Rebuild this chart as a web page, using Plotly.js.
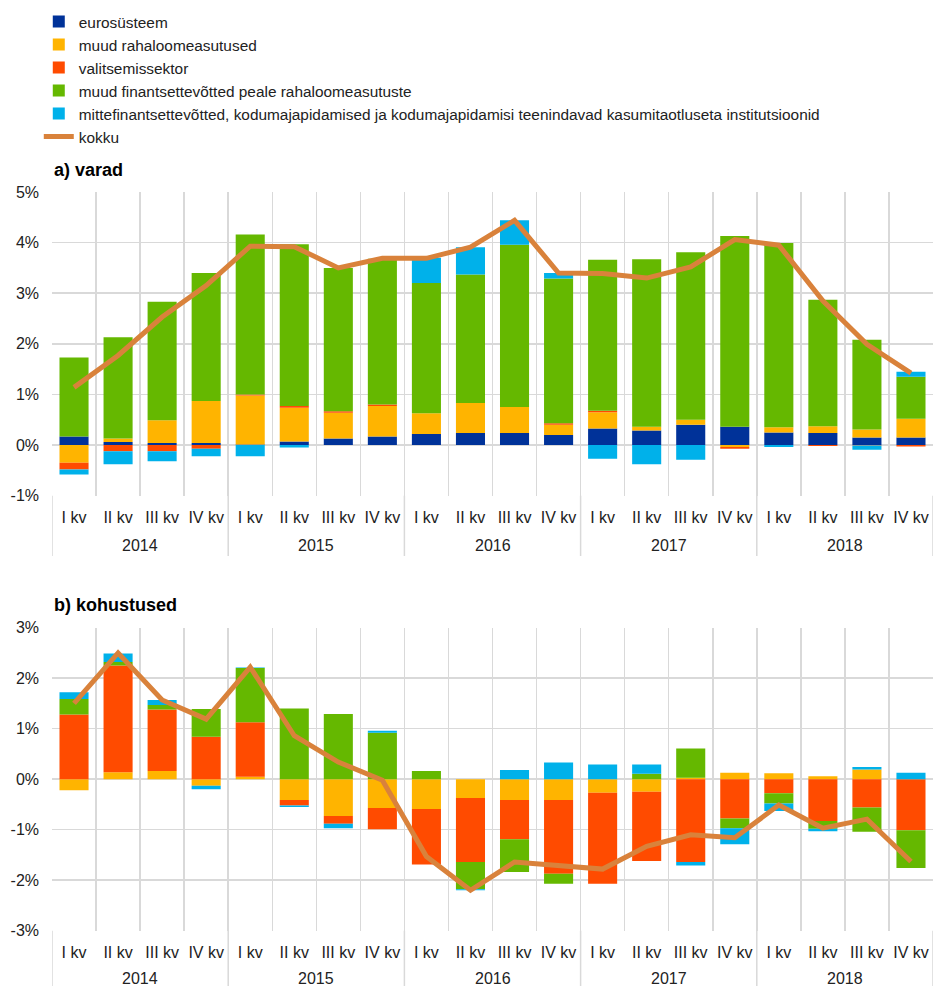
<!DOCTYPE html>
<html>
<head>
<meta charset="utf-8">
<script src="https://cdn.plot.ly/plotly-3.0.1.min.js"></script>
<style>
  html, body { margin: 0; padding: 0; background: #ffffff; }
  #chart { width: 933px; height: 986px; }
</style>
</head>
<body>
<div id="chart"></div>
<script>
// Categories
const years = ['2014','2014','2014','2014','2015','2015','2015','2015','2016','2016','2016','2016','2017','2017','2017','2017','2018','2018','2018','2018'];
const quarters = ['I kv','II kv','III kv','IV kv','I kv','II kv','III kv','IV kv','I kv','II kv','III kv','IV kv','I kv','II kv','III kv','IV kv','I kv','II kv','III kv','IV kv'];

const seriesNames = ['eurosüsteem','muud rahaloomeasutused','valitsemissektor','muud finantsettevõtted peale rahaloomeasutuste','mittefinantsettevõtted, kodumajapidamised ja kodumajapidamisi teenindavad kasumitaotluseta institutsioonid','kokku'];

// y tick labels
const yticks_a = [-1, 0, 1, 2, 3, 4, 5];
const ytext_a  = ['-1%', '0%', '1%', '2%', '3%', '4%', '5%'];
const yticks_b = [-3, -2, -1, 0, 1, 2, 3];
const ytext_b  = ['-3%', '-2%', '-1%', '0%', '1%', '2%', '3%'];

// a) varad
const euro_a     = [0.17, 0.06, 0.04, 0.04, 0.01, 0.07, 0.13, 0.17, 0.22, 0.24, 0.24, 0.20, 0.33, 0.29, 0.40, 0.36, 0.25, 0.24, 0.15, 0.15];
const raha_a     = [-0.35, 0.07, 0.45, 0.83, 0.97, 0.67, 0.51, 0.60, 0.41, 0.59, 0.51, 0.20, 0.32, 0.07, 0.10, -0.04, 0.10, 0.13, 0.16, 0.37];
const valits_a   = [-0.13, -0.12, -0.12, -0.07, 0.02, 0.03, 0.03, 0.03, 0.00, 0.00, 0.00, 0.03, 0.03, 0.00, 0.00, -0.03, 0.00, -0.02, -0.01, -0.03];
const muudfin_a  = [1.56, 2.00, 2.34, 2.53, 3.16, 3.20, 2.83, 2.88, 2.57, 2.54, 3.21, 2.86, 2.98, 3.31, 3.31, 3.77, 3.64, 2.50, 1.77, 0.83];
const mittefin_a = [-0.10, -0.26, -0.20, -0.15, -0.22, -0.05, 0.00, 0.00, 0.50, 0.54, 0.48, 0.11, -0.27, -0.38, -0.29, 0.00, -0.04, 0.00, -0.08, 0.10];
const kokku_a    = [1.14, 1.77, 2.53, 3.15, 3.93, 3.92, 3.50, 3.69, 3.69, 3.91, 4.44, 3.40, 3.39, 3.30, 3.52, 4.06, 3.95, 2.85, 1.99, 1.42];

// b) kohustused
const euro_b     = [0, 0, 0, 0, 0, 0, 0, 0, 0, 0, 0, 0, 0, 0, 0, 0, 0, 0, 0, 0];
const raha_b     = [-0.22, 0.14, 0.16, -0.13, 0.05, -0.41, -0.73, -0.57, -0.59, -0.37, -0.41, -0.41, -0.27, -0.25, 0.03, 0.13, 0.12, 0.06, 0.19, 0.00];
const valits_b   = [1.28, 2.11, 1.22, 0.84, 1.08, -0.11, -0.15, -0.42, -1.10, -1.27, -0.78, -1.46, -1.80, -1.37, -1.64, -0.78, -0.28, -0.83, -0.56, -1.01];
const muudfin_b  = [0.31, 0.07, 0.09, 0.55, 1.07, 1.40, 1.29, 0.92, 0.16, -0.54, -0.65, -0.20, 0.00, 0.11, 0.58, -0.19, -0.20, -0.15, -0.48, -0.75];
const mittefin_b = [0.13, 0.17, 0.10, -0.07, 0.01, -0.03, -0.09, 0.04, 0.00, -0.02, 0.18, 0.33, 0.29, 0.18, -0.07, -0.32, -0.15, -0.05, 0.05, 0.13];
const kokku_b    = [1.50, 2.50, 1.57, 1.19, 2.22, 0.86, 0.34, -0.02, -1.53, -2.20, -1.64, -1.72, -1.78, -1.33, -1.10, -1.16, -0.51, -0.97, -0.79, -1.63];

const colors = ['#003299', '#ffb400', '#ff4b00', '#65b800', '#00b1ea', '#d9823b'];

// unique category keys (year + quarter); tick text shows the quarter only
const xkeys = years.map((y, i) => y + ' ' + quarters[i]);

function panel(vals, total, xa, ya, show) {
  const traces = vals.map((v, i) => ({
    type: 'bar',
    name: seriesNames[i],
    x: xkeys,
    y: v,
    xaxis: xa, yaxis: ya,
    marker: { color: colors[i], line: { width: 0 } },
    showlegend: show,
    hoverinfo: 'y+name'
  }));
  traces.push({
    type: 'scatter',
    mode: 'lines',
    name: seriesNames[5],
    x: xkeys,
    y: total,
    xaxis: xa, yaxis: ya,
    line: { color: colors[5], width: 5 },
    showlegend: show,
    hoverinfo: 'y+name'
  });
  return traces;
}

const data = [].concat(
  panel([euro_a, raha_a, valits_a, muudfin_a, mittefin_a], kokku_a, 'x', 'y', true),
  panel([euro_b, raha_b, valits_b, muudfin_b, mittefin_b], kokku_b, 'x2', 'y2', false)
);

const fontFam = 'Liberation Sans, Arial, sans-serif';
const grid = '#d9d9d9';
const H = 986;

function xax(anchor) {
  return {
    type: 'category',
    anchor: anchor,
    domain: [0, 1],
    range: [-0.5, xkeys.length - 0.5],
    tickmode: 'array',
    tickvals: xkeys,
    ticktext: quarters,
    tickson: 'boundaries',
    showgrid: true,
    gridcolor: grid,
    gridwidth: 1.5,
    ticks: '',
    showline: false,
    zeroline: false,
    automargin: false,
    ticklabelstandoff: 10,
    tickfont: { family: fontFam, size: 16, color: '#222222' }
  };
}
function yax(anchor, dom, rng, tv, tt) {
  return {
    anchor: anchor,
    domain: dom,
    range: rng,
    tickmode: 'array',
    tickvals: tv,
    ticktext: tt,
    showgrid: true,
    gridcolor: grid,
    gridwidth: 1.5,
    zeroline: false,
    showline: false,
    ticks: '',
    ticklabelstandoff: 12,
    automargin: false,
    tickfont: { family: fontFam, size: 16, color: '#222222' }
  };
}

// year groups: label positions and divider positions from the category arrays
const yearList = [...new Set(years)];
const yearMid = yearList.map(y => (years.indexOf(y) + years.lastIndexOf(y)) / 2);
const yearBounds = [-0.5].concat(yearList.map(y => years.lastIndexOf(y) + 0.5));

const panels = [
  { xref: 'x', bottom: 495.7, yearY: 545, divEnd: 556 },
  { xref: 'x2', bottom: 930.7, yearY: 978, divEnd: 986 }
];

const annotations = [
  { xref: 'paper', yref: 'paper', x: 0, y: 1 - 170 / H, xanchor: 'left', yanchor: 'middle',
    text: '<b>a) varad</b>', showarrow: false, font: { family: fontFam, size: 18, color: '#000000' } },
  { xref: 'paper', yref: 'paper', x: 0, y: 1 - 605 / H, xanchor: 'left', yanchor: 'middle',
    text: '<b>b) kohustused</b>', showarrow: false, font: { family: fontFam, size: 18, color: '#000000' } }
];
const shapes = [];
panels.forEach(p => {
  yearList.forEach((y, k) => {
    annotations.push({
      xref: p.xref, yref: 'paper', x: yearMid[k], y: 1 - p.yearY / H,
      xanchor: 'center', yanchor: 'middle', text: y, showarrow: false,
      font: { family: fontFam, size: 16, color: '#222222' }
    });
  });
  yearBounds.forEach(b => {
    shapes.push({
      type: 'line', xref: p.xref, yref: 'paper',
      x0: b, x1: b, y0: 1 - p.bottom / H, y1: 1 - p.divEnd / H,
      line: { color: grid, width: 1.5 }, layer: 'below'
    });
  });
});

const layout = {
  width: 933,
  height: 986,
  margin: { l: 52, r: 0, t: 0, b: 0 },
  paper_bgcolor: '#ffffff',
  plot_bgcolor: '#ffffff',
  barmode: 'relative',
  bargap: 0.34,
  font: { family: fontFam, size: 16, color: '#222222' },
  showlegend: true,
  legend: {
    x: -0.015, xanchor: 'left',
    y: 1 - 5 / H, yanchor: 'top',
    traceorder: 'normal',
    font: { family: fontFam, size: 15.4, color: '#222222' },
    bgcolor: 'rgba(0,0,0,0)',
    itemwidth: 30
  },
  xaxis: xax('y'),
  yaxis: yax('x', [1 - 495.7 / H, 1 - 192 / H], [-1, 5], yticks_a, ytext_a),
  xaxis2: xax('y2'),
  yaxis2: yax('x2', [1 - 930.7 / H, 1 - 627.7 / H], [-3, 3], yticks_b, ytext_b),
  annotations: annotations,
  shapes: shapes
};

Plotly.newPlot('chart', data, layout, { displayModeBar: false, staticPlot: true });
</script>
</body>
</html>
